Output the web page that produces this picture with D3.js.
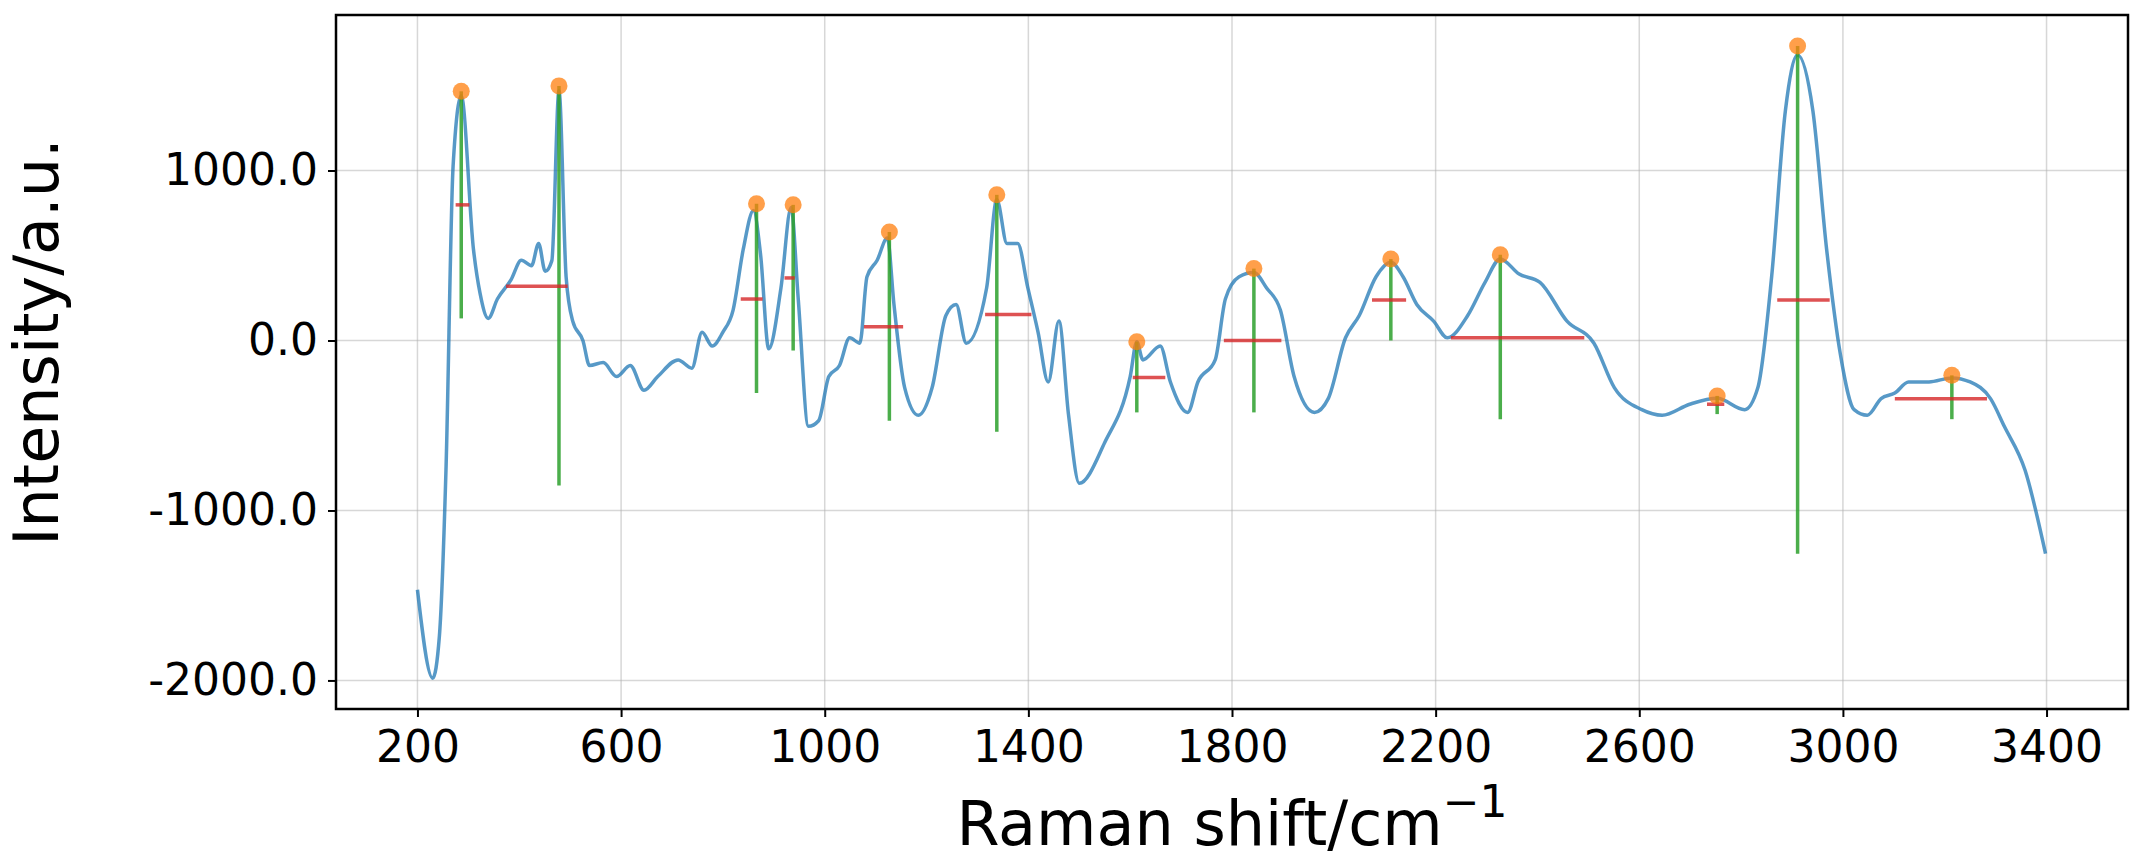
<!DOCTYPE html>
<html><head><meta charset="utf-8">
<script src="https://cdn.jsdelivr.net/npm/d3@7"></script>
<style>body{margin:0;background:#fff}svg{display:block}</style>
</head><body>
<svg id="chart" width="2142" height="864"></svg>
<script>
// spectrum
const shift = [200,230,243,256,270,286,310,323,339,357,384,404,424,438,451,464,478,492,505,525,538,565,591,618,645,672,712,739,759,779,800,820,840,860,874,890,914,934,948,968,988,1008,1029,1049,1069,1083,1103,1123,1136,1157,1184,1211,1238,1258,1278,1318,1338,1358,1379,1399,1419,1439,1460,1479,1500,1550,1600,1613,1625,1659,1679,1713,1733,1767,1787,1814,1843,1868,1895,1922,1962,1989,2023,2050,2083,2112,2136,2163,2196,2223,2263,2297,2327,2364,2405,2458,2511,2551,2605,2645,2699,2753,2807,2833,2860,2887,2911,2941,2968,2995,3022,3048,3075,3102,3129,3169,3214,3250,3290,3317,3358,3398];
const intensity = [-1466,-1987,-1743,-765,1026,1440,537,277,130,244,358,472,440,570,407,470,1470,375,114,0,-147,-130,-212,-147,-293,-212,-114,-163,49,-33,49,179,537,765,505,-49,309,782,244,-505,-472,-212,-147,16,-16,375,472,603,212,-277,-440,-277,147,212,-16,309,830,570,570,309,49,-244,114,-440,-840,-600,-212,-7,-114,-33,-244,-423,-244,-114,244,375,400,309,179,-212,-423,-342,16,147,375,460,375,212,114,16,147,342,480,391,342,114,-16,-277,-407,-440,-375,-340,-407,-277,375,1352,1680,1352,537,-81,-407,-440,-342,-309,-244,-244,-220,-244,-342,-505,-765,-1254];

// detected peaks
const peakX = [286,478,866,938,1127,1338,1613,1843,2112,2327,2753,2911,3214];
const peakY = [1466,1498,805,798,638,857,-7,423,479,505,-326,1733,-205];
const vlineMin = [130,-853,-309,-59,-472,-537,-423,-423,0,-463,-433,-1254,-463];
const hlineY = [798,319,244,368,81,153,-218,0,238,16,-375,238,-342];
const hlineFrom = [275,374,835,921,1077,1315,1605,1784,2075,2230,2733,2871,3102];
const hlineTo = [302,495,878,941,1154,1406,1669,1897,2142,2492,2767,2974,3283];

const xTicks = [200,600,1000,1400,1800,2200,2600,3000,3400];
const yTicks = [-2000,-1000,0,1000];

const svg = d3.select("#chart");
const m = {left: 336, right: 2128, top: 15, bottom: 709};

const x = d3.scaleLinear().domain([40, 3560]).range([m.left, m.right]);
const y = d3.scaleLinear().domain([-2168, 1915]).range([m.bottom, m.top]);

// grid
svg.append("g").selectAll("line").data(xTicks).join("line")
  .attr("x1", d => x(d)).attr("x2", d => x(d)).attr("y1", m.top).attr("y2", m.bottom)
  .attr("stroke", "#b0b0b0").attr("stroke-opacity", 0.5).attr("stroke-width", 1.5);
svg.append("g").selectAll("line").data(yTicks).join("line")
  .attr("y1", d => y(d)).attr("y2", d => y(d)).attr("x1", m.left).attr("x2", m.right)
  .attr("stroke", "#b0b0b0").attr("stroke-opacity", 0.5).attr("stroke-width", 1.5);

const pts = shift.map((s, i) => [s, intensity[i]]);
svg.append("path").datum(pts)
  .attr("d", d3.line().curve(d3.curveMonotoneX).x(d => x(d[0])).y(d => y(d[1])))
  .attr("fill", "none").attr("stroke", "#1f77b4").attr("stroke-opacity", 0.75).attr("stroke-width", 3.5);

// green verticals
svg.append("g").selectAll("line").data(peakX).join("line")
  .attr("x1", d => x(d)).attr("x2", d => x(d))
  .attr("y1", (d, i) => y(peakY[i])).attr("y2", (d, i) => y(vlineMin[i]))
  .attr("stroke", "#2ca02c").attr("stroke-opacity", 0.85).attr("stroke-width", 3.5);

// red widths
svg.append("g").selectAll("line").data(hlineY).join("line")
  .attr("x1", (d, i) => x(hlineFrom[i])).attr("x2", (d, i) => x(hlineTo[i]))
  .attr("y1", d => y(d)).attr("y2", d => y(d))
  .attr("stroke", "#d62728").attr("stroke-opacity", 0.8).attr("stroke-width", 3.5);

svg.append("g").selectAll("circle").data(peakX).join("circle")
  .attr("cx", d => x(d)).attr("cy", (d, i) => y(peakY[i])).attr("r", 8.5)
  .attr("fill", "#ff7f0e").attr("fill-opacity", 0.75);

// axes
const font = "'DejaVu Sans', sans-serif";
const xa = svg.append("g").attr("transform", `translate(0,${m.bottom})`)
  .call(d3.axisBottom(x).tickValues(xTicks).tickFormat(d3.format("d")).tickSize(8).tickPadding(14));
const ya = svg.append("g").attr("transform", `translate(${m.left},0)`)
  .call(d3.axisLeft(y).tickValues(yTicks).tickSize(8).tickPadding(10));
[xa, ya].forEach(a => {
  a.select(".domain").remove();
  a.selectAll("line").attr("stroke", "#000").attr("stroke-width", 2);
  a.selectAll("text").attr("font-family", font).attr("font-size", 44).attr("fill", "#000");
});
ya.selectAll("text").text(d => d.toFixed(1));

svg.append("rect").attr("x", m.left).attr("y", m.top)
  .attr("width", m.right - m.left).attr("height", m.bottom - m.top)
  .attr("fill", "none").attr("stroke", "#000").attr("stroke-width", 2.5);

const xl = svg.append("text").attr("x", (m.left + m.right) / 2).attr("y", 845)
  .attr("text-anchor", "middle").attr("font-family", font).attr("font-size", 62);
xl.append("tspan").text("Raman shift/cm");
xl.append("tspan").attr("dy", -28).attr("font-size", 44).text("−1");

svg.append("text").attr("transform", `translate(58,${(m.top + m.bottom) / 2 - 20}) rotate(-90)`)
  .attr("text-anchor", "middle").attr("font-family", font).attr("font-size", 62)
  .text("Intensity/a.u.");
</script>
</body></html>
